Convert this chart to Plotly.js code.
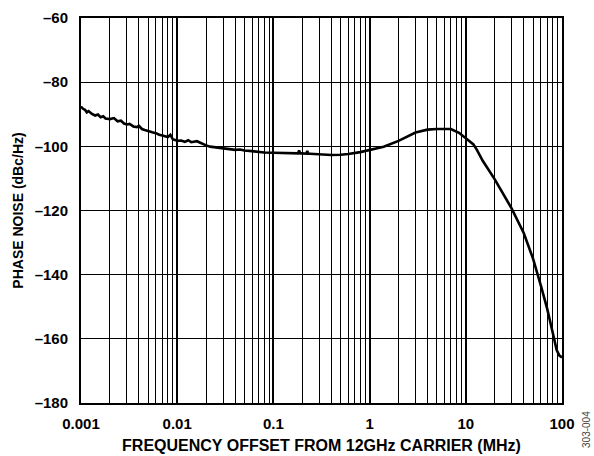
<!DOCTYPE html>
<html>
<head>
<meta charset="utf-8">
<script src="https://cdn.plot.ly/plotly-3.0.1.min.js"></script>
<style>html,body{margin:0;padding:0;background:#fff}#chart{width:594px;height:456px}</style>
</head>
<body>
<div id="chart"></div>
<script>
const freqMHz = [0.00100,0.00105,0.00110,0.00115,0.00120,0.00130,0.00140,0.00150,0.00160,0.00170,0.00180,0.00200,0.00220,0.00240,0.00260,0.00280,0.00300,0.00320,0.00350,0.00380,0.00400,0.00430,0.00460,0.00500,0.00550,0.00600,0.00650,0.00700,0.00750,0.00800,0.00850,0.00900,0.00950,0.0100,0.0110,0.0120,0.0130,0.0140,0.0160,0.0180,0.0200,0.0220,0.0250,0.0280,0.0310,0.0350,0.0400,0.0450,0.0500,0.0600,0.0700,0.0800,0.1000,0.1200,0.1500,0.1800,0.1850,0.1900,0.2000,0.2200,0.2250,0.2300,0.2400,0.3000,0.4000,0.5000,0.6000,0.8000,1.0,1.4,2.0,2.5,3.0,4.0,5.0,7.0,8.5,10,12,13,15,20,25,30,40,50,60,70,80,88,94,100];
const phaseNoise = [-87.6,-88.3,-88.6,-89.4,-89.0,-89.9,-90.4,-90.1,-90.9,-90.6,-91.3,-91.5,-91.2,-92.2,-92.0,-92.9,-93.2,-93.0,-93.8,-94.0,-93.6,-94.6,-94.9,-95.3,-95.6,-95.9,-96.4,-96.6,-96.9,-97.1,-96.4,-97.8,-98.0,-98.3,-98.2,-98.6,-98.1,-98.7,-98.4,-99.2,-99.7,-100.1,-100.3,-100.5,-100.7,-100.8,-101.1,-101.0,-101.3,-101.5,-101.8,-101.9,-102.0,-102.0,-102.1,-102.2,-101.3,-102.2,-102.2,-102.3,-101.4,-102.3,-102.3,-102.5,-102.7,-102.6,-102.4,-101.8,-101.1,-100.1,-98.3,-96.8,-95.7,-94.8,-94.6,-94.6,-95.8,-97.5,-99.4,-101.0,-104.5,-110.3,-115.5,-119.4,-127.0,-135.0,-143.2,-150.5,-158.0,-163.5,-165.2,-165.8];
const xTickVals = [0.001,0.01,0.1,1,10,100];
const xTickText = ["0.001","0.01","0.1","1","10","100"];
const yTickVals = [-180,-160,-140,-120,-100,-80,-60];
const yTickText = ["–180","–160","–140","–120","–100","–80","–60"];

const fontFam = "Liberation Sans, Arial, sans-serif";
const trace = {x: freqMHz, y: phaseNoise, type: 'scatter', mode: 'lines',
  line: {color: '#000', width: 2.6}, hoverinfo: 'skip'};
const layout = {
  width: 594, height: 456,
  margin: {l: 81, r: 32, t: 18, b: 53},
  paper_bgcolor: '#fff', plot_bgcolor: '#fff',
  showlegend: false,
  font: {family: fontFam, color: '#000'},
  xaxis: {
    type: 'log', range: [-3, 2],
    tickvals: xTickVals, ticktext: xTickText,
    tickfont: {family: fontFam, size: 15, weight: 'bold', color: '#000'},
    showgrid: true, gridcolor: '#000', gridwidth: 2,
    minor: {dtick: 'D1', showgrid: true, gridcolor: '#000', gridwidth: 1, ticks: ''},
    showline: true, linecolor: '#000', linewidth: 2, mirror: true,
    ticks: '', ticklabelstandoff: 6, zeroline: false,
    title: {text: 'FREQUENCY OFFSET FROM 12GHz CARRIER (MHz)', font: {family: fontFam, size: 16, weight: 'bold', color: '#000'}, standoff: 9}
  },
  yaxis: {
    range: [-180, -60],
    tickvals: yTickVals, ticktext: yTickText,
    tickfont: {family: fontFam, size: 15, weight: 'bold', color: '#000'},
    showgrid: true, gridcolor: '#000', gridwidth: 1,
    showline: true, linecolor: '#000', linewidth: 2, mirror: true,
    ticks: '', ticklabelstandoff: 8, zeroline: false,
    title: {text: 'PHASE NOISE (dBc/Hz)', font: {family: fontFam, size: 14, weight: 'bold', color: '#000'}, standoff: 8}
  },
  annotations: [{text: '303-004', xref: 'paper', yref: 'paper', x: 1.052, y: -0.07,
    xanchor: 'center', yanchor: 'middle',
    textangle: -90, showarrow: false, font: {family: fontFam, size: 10, color: '#444'}}]
};
Plotly.newPlot('chart', [trace], layout, {staticPlot: true, displayModeBar: false});
</script>
</body>
</html>
